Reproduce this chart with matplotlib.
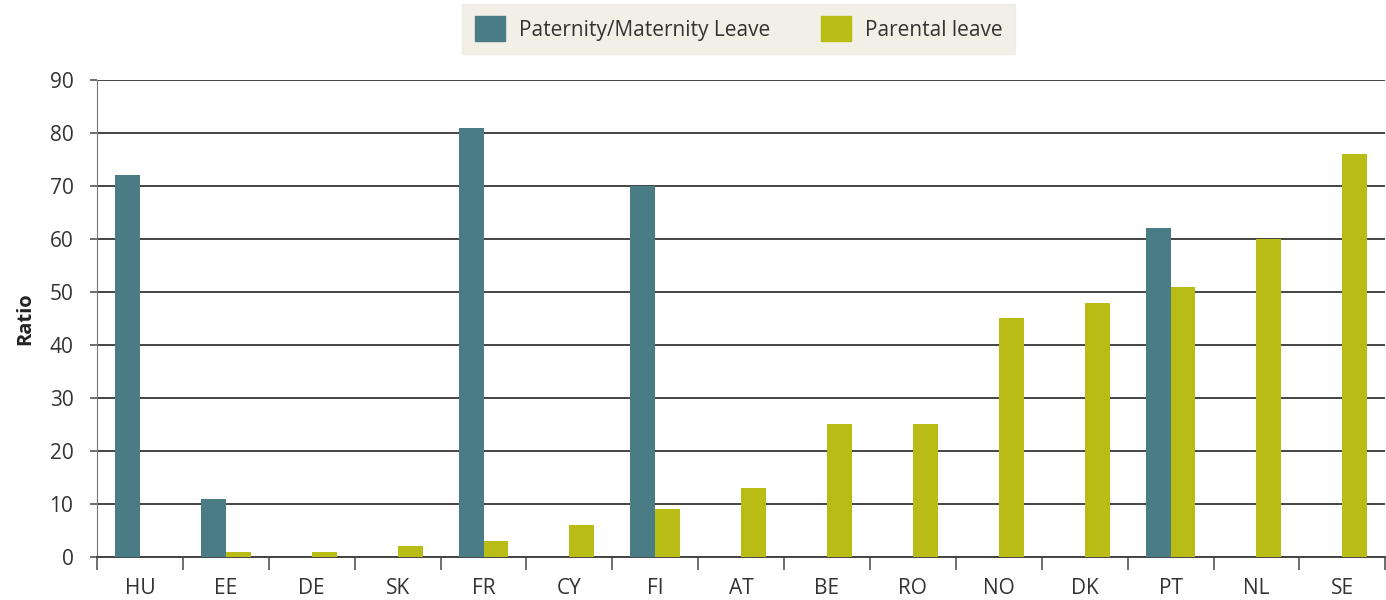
import numpy as np
import matplotlib.pyplot as plt
from matplotlib.patches import Patch

plt.rcParams['font.family'] = ['Open Sans', 'DejaVu Sans']

# dati
countries = ['HU', 'EE', 'DE', 'SK', 'FR', 'CY', 'FI', 'AT', 'BE', 'RO', 'NO', 'DK', 'PT', 'NL', 'SE']
pat_mat = [72, 11, 0, 0, 81, 0, 70, 0, 0, 0, 0, 0, 62, 0, 0]
parental = [0, 1, 1, 2, 3, 6, 9, 13, 25, 25, 45, 48, 51, 60, 76]

col_pm = '#4A7C85'
col_par = '#B9BC15'
txt = '#333333'

fig = plt.figure(figsize=(13.86, 6), dpi=100)
ax = fig.add_axes([0.07, 0.0717, 0.9295, 0.795])

x = np.arange(len(countries))
w = 0.29
ax.bar(x - w/2, pat_mat, width=w, color=col_pm, zorder=3)
ax.bar(x + w/2, parental, width=w, color=col_par, zorder=3)

ax.set_xlim(-0.5, len(countries) - 0.5)
ax.set_ylim(0, 90)
ax.set_yticks(range(0, 91, 10))
ax.yaxis.grid(True, color='#444444', lw=1.4, zorder=0)
ax.set_axisbelow(True)

# tick categorie ai bordi
ax.set_xticks(np.arange(-0.5, len(countries), 1))
ax.set_xticklabels([])
ax.set_xticks(x, minor=True)
ax.set_xticklabels(countries, minor=True, fontsize=15, color=txt)
ax.tick_params(axis='x', which='major', length=9, width=1.2, color='#555555')
ax.tick_params(axis='x', which='minor', length=0, pad=15)
ax.tick_params(axis='y', length=5, width=1.2, color='#555555', labelsize=15, labelcolor=txt, pad=12)

for s in ['top', 'right']:
    ax.spines[s].set_visible(False)
ax.spines['left'].set_color('#777777')
ax.spines['bottom'].set_color('#444444')
ax.spines['bottom'].set_linewidth(1.4)

ax.set_ylabel('Ratio', fontsize=14.5, fontweight='bold', color='#222222', labelpad=10)

handles = [Patch(color=col_pm, label='Paternity/Maternity Leave'),
           Patch(color=col_par, label='Parental leave')]
leg = fig.legend(handles=handles, loc='upper center', bbox_to_anchor=(0.533, 0.997), ncol=2,
                 fontsize=15, frameon=True, fancybox=False, facecolor='#EFEBE2', edgecolor='#EFEBE2',
                 handlelength=1.45, handleheight=1.45, columnspacing=2.4, borderpad=0.6,
                 handletextpad=0.7, borderaxespad=0.1)
for t in leg.get_texts():
    t.set_color(txt)

fig.savefig('out.png', dpi=100)
